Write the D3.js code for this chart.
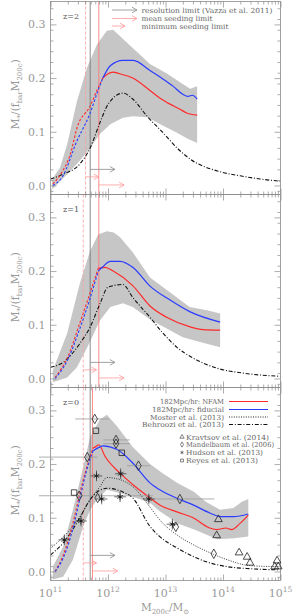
<!DOCTYPE html>
<html>
<head>
<meta charset="utf-8">
<script src="https://cdn.jsdelivr.net/npm/d3@7"></script>
<style>
body { margin: 0; background: #fff; }
text { font-family: "DejaVu Serif", serif; }
</style>
</head>
<body>
<div id="chart"></div>
<script>
// values are [log10(M200c/Msun), M*/(fbar M200c)]

var zLabels = ["z=2", "z=1", "z=0"];
var resLimit = [11.69, 11.69, 11.69];
var meanSeed = [11.84, 11.84, 11.73];
var minSeed = [11.61, 11.57, 11.57];
var dashEnd = [11.91, 11.83, 11.74];

var yTicks = [0, 0.1, 0.2, 0.3];
var xTicks = [11, 12, 13, 14, 15];

// z=2
var bandUp2 = [[11.03,0.012],[11.165,0.033],[11.29,0.077],[11.46,0.157],[11.635,0.219],[11.81,0.263],[11.98,0.288],[12.09,0.29],[12.43,0.256],[12.73,0.226],[13.03,0.208],[13.30,0.189],[13.43,0.18],[13.55,0.185]];
var bandLo2 = [[11.03,-0.007],[11.29,0.021],[11.51,0.046],[11.69,0.07],[11.86,0.096],[12.04,0.114],[12.26,0.126],[12.43,0.129],[12.68,0.127],[12.96,0.111],[13.20,0.098],[13.37,0.088],[13.55,0.079]];
var nfam2 = [[11.04,0.003],[11.2,0.025],[11.35,0.06],[11.46,0.107],[11.69,0.148],[11.82,0.18],[11.91,0.2],[12.0,0.208],[12.09,0.211],[12.2,0.208],[12.43,0.2],[12.73,0.177],[12.9,0.163],[13.07,0.152],[13.25,0.142],[13.37,0.135],[13.55,0.131]];
var fid2 = [[11.04,0.0],[11.2,0.015],[11.46,0.083],[11.69,0.135],[11.82,0.175],[11.91,0.2],[12.04,0.223],[12.26,0.233],[12.44,0.233],[12.73,0.214],[12.96,0.198],[13.13,0.185],[13.30,0.17],[13.39,0.166],[13.47,0.168],[13.55,0.161]];
var behroozi2 = [[11.0,0.012],[11.22,0.021],[11.51,0.04],[11.69,0.07],[11.86,0.117],[12.0,0.151],[12.26,0.172],[12.43,0.161],[12.68,0.129],[12.96,0.098],[13.2,0.07],[13.43,0.049],[13.9,0.027],[14.3,0.018],[14.65,0.012],[15.0,0.008]];

// z=1
var bandUp1 = [[11.04,0.015],[11.29,0.084],[11.51,0.177],[11.69,0.238],[11.83,0.268],[11.98,0.274],[12.1,0.272],[12.21,0.263],[12.43,0.235],[12.73,0.188],[13.07,0.161],[13.42,0.133],[13.72,0.127],[13.95,0.121]];
var bandLo1 = [[11.04,-0.007],[11.29,0.002],[11.46,0.021],[11.64,0.058],[11.86,0.108],[12.04,0.133],[12.26,0.14],[12.43,0.133],[12.73,0.11],[13.02,0.093],[13.30,0.077],[13.6,0.068],[13.95,0.058]];
var nfam1 = [[11.08,0.002],[11.3,0.04],[11.5,0.1],[11.69,0.16],[11.83,0.205],[11.95,0.207],[12.09,0.2],[12.43,0.173],[12.73,0.135],[13.02,0.114],[13.43,0.096],[13.65,0.091],[13.95,0.09]];
var fid1 = [[11.08,0.0],[11.3,0.035],[11.5,0.09],[11.69,0.15],[11.83,0.2],[11.9,0.207],[12.04,0.218],[12.21,0.218],[12.43,0.207],[12.73,0.172],[13.08,0.146],[13.43,0.124],[13.95,0.105]];
var behroozi1 = [[11.0,0.021],[11.22,0.03],[11.51,0.065],[11.69,0.096],[11.86,0.139],[12.0,0.17],[12.26,0.175],[12.43,0.151],[12.73,0.114],[12.96,0.084],[13.2,0.058],[13.48,0.038],[13.9,0.019],[14.35,0.01],[15.0,0.004]];

// z=0
var bandUp0 = [[11.04,0.009],[11.22,0.046],[11.39,0.115],[11.57,0.195],[11.69,0.251],[11.86,0.283],[11.98,0.292],[12.16,0.27],[12.43,0.232],[12.73,0.2],[12.95,0.183],[13.2,0.165],[13.5,0.148],[13.7,0.13],[13.95,0.115],[14.18,0.118],[14.33,0.13],[14.44,0.135]];
var bandLo0 = [[11.04,-0.015],[11.22,-0.01],[11.39,0.022],[11.57,0.084],[11.69,0.115],[11.81,0.134],[11.98,0.152],[12.2,0.146],[12.43,0.139],[12.73,0.128],[12.9,0.112],[13.07,0.1],[13.2,0.09],[13.5,0.078],[13.9,0.06],[14.2,0.062],[14.44,0.065]];
var nfam0 = [[11.08,0.0],[11.22,0.03],[11.39,0.09],[11.52,0.15],[11.62,0.19],[11.74,0.23],[11.78,0.232],[11.84,0.236],[11.95,0.214],[12.2,0.184],[12.43,0.162],[12.73,0.137],[12.9,0.124],[13.2,0.111],[13.48,0.1],[13.77,0.081],[13.9,0.078],[14.05,0.081],[14.15,0.078],[14.3,0.09],[14.44,0.105]];
var fid0 = [[11.08,0.0],[11.22,0.025],[11.39,0.08],[11.52,0.14],[11.62,0.185],[11.74,0.225],[11.86,0.232],[11.91,0.234],[12.16,0.227],[12.43,0.202],[12.73,0.165],[12.9,0.152],[13.25,0.134],[13.48,0.124],[13.77,0.109],[13.95,0.102],[14.18,0.102],[14.44,0.107]];
var behroozi0 = [[11.0,0.031],[11.22,0.053],[11.51,0.1],[11.69,0.134],[11.98,0.155],[12.26,0.148],[12.43,0.137],[12.73,0.084],[12.9,0.065],[13.2,0.044],[13.48,0.028],[13.77,0.016],[14.07,0.009],[14.5,0.005],[14.95,0.003]];
var moster0 = [[11.0,0.043],[11.29,0.072],[11.51,0.102],[11.69,0.134],[11.86,0.158],[11.98,0.175],[12.21,0.171],[12.43,0.158],[12.73,0.12],[12.9,0.096],[13.2,0.068],[13.48,0.05],[13.77,0.035],[14.07,0.022],[14.46,0.011],[14.95,0.009]];

// z=0 observations: [logM, value, errLo, errHi]
var mandelbaum = [[11.77,0.284,11.43,12.02],[12.14,0.245,11.92,12.38],[12.14,0.238,11.92,12.38],[11.64,0.213,10.8,11.82],[12.53,0.197,12.33,12.73],[11.50,0.141,10.8,12.78],[11.82,0.137,null,null],[13.25,0.135,12.75,13.85],[13.18,0.083,null,null],[13.84,0.033,null,null]];
var reyes = [[11.79,0.262],[12.24,0.221],[11.41,0.147]];
var hudson = [[11.80,0.178],[12.22,0.182],[11.89,0.135],[12.21,0.139],[12.71,0.135],[11.53,0.094],[11.24,0.059],[13.12,0.088]];
var kravtsov = [[13.92,0.097],[13.89,0.067],[14.28,0.035],[14.42,0.027],[14.47,0.016],[14.94,0.02],[14.90,0.009],[14.96,0.009]];

var arrowY = [0.03, 0.016, 0.001];
var arrowLen = [0.43, 0.23, 0.44];

var panels = [
	{band: [bandUp2, bandLo2], nfam: nfam2, fid: fid2, behroozi: behroozi2},
	{band: [bandUp1, bandLo1], nfam: nfam1, fid: fid1, behroozi: behroozi1},
	{band: [bandUp0, bandLo0], nfam: nfam0, fid: fid0, behroozi: behroozi0, moster: moster0}
];

var width = 299, height = 614;
var panelTop = [1.5, 194.5, 387.5], panelH = 193;
var axisCol = "#8a8a8a";
var red = "#ff2a2a", blue = "#2a3cff";

var svg = d3.select("#chart").append("svg")
	.attr("width", width).attr("height", height);

var x = d3.scaleLog().domain([1e11, 1e15]).range([50.5, 280.5]);
function X(lm) { return x(Math.pow(10, lm)); }

var xMinor = [];
for (var e = 11; e < 15; e++)
	for (var m = 2; m <= 9; m++) xMinor.push(m * Math.pow(10, e));
var xMajor = xTicks.map(function(e) { return Math.pow(10, e); });

function arrow(g, x1, x2, yy, col) {
	g.append("line").attr("x1", x1).attr("x2", x2).attr("y1", yy).attr("y2", yy)
		.attr("stroke", col).attr("stroke-width", 0.8);
	g.append("path").attr("d", "M" + (x2 - 5) + "," + (yy - 2.8) + "L" + x2 + "," + yy + "L" + (x2 - 5) + "," + (yy + 2.8))
		.attr("fill", "none").attr("stroke", col).attr("stroke-width", 0.8);
}

panels.forEach(function(p, i) {
	var top = panelTop[i], bot = top + panelH;
	var y = d3.scaleLinear().domain([-0.0168, 0.3426]).range([bot, top]);
	var line = d3.line().x(function(d) { return X(d[0]); }).y(function(d) { return y(d[1]); })
		.curve(d3.curveMonotoneX);
	var g = svg.append("g");

	svg.append("clipPath").attr("id", "clip" + i).append("rect")
		.attr("x", 50.5).attr("y", top).attr("width", 230).attr("height", panelH);
	var pg = g.append("g").attr("clip-path", "url(#clip" + i + ")");

	// grey band
	var poly = p.band[0].concat(p.band[1].slice().reverse());
	pg.append("path")
		.attr("d", d3.line().x(function(d) { return X(d[0]); }).y(function(d) { return y(d[1]); })(poly) + "Z")
		.attr("fill", "#c6c6c6").attr("stroke", "none");

	// limits
	pg.append("line").attr("x1", X(minSeed[i])).attr("x2", X(minSeed[i]))
		.attr("y1", top).attr("y2", bot).attr("stroke", "#ff9a9a").attr("stroke-width", 0.8)
		.attr("stroke-dasharray", "3,2");
	pg.append("line").attr("x1", X(resLimit[i])).attr("x2", X(resLimit[i]))
		.attr("y1", top).attr("y2", bot).attr("stroke", "#6e6e6e").attr("stroke-width", 0.8);
	pg.append("line").attr("x1", X(meanSeed[i])).attr("x2", X(meanSeed[i]))
		.attr("y1", top).attr("y2", bot).attr("stroke", "#ff7070").attr("stroke-width", 0.8);

	arrow(pg, X(resLimit[i]), X(resLimit[i] + arrowLen[0]), y(arrowY[0]), "#8a8a8a");
	arrow(pg, X(minSeed[i]), X(minSeed[i] + arrowLen[1]), y(arrowY[1]), "#ff9a9a");
	arrow(pg, X(meanSeed[i]), X(meanSeed[i] + arrowLen[2]), y(arrowY[2]), "#ff9a9a");

	// model lines
	if (p.moster)
		pg.append("path").attr("d", line(p.moster)).attr("fill", "none")
			.attr("stroke", "#222").attr("stroke-width", 0.9).attr("stroke-dasharray", "1,1.4");
	pg.append("path").attr("d", line(p.behroozi)).attr("fill", "none")
		.attr("stroke", "#111").attr("stroke-width", 1.1).attr("stroke-dasharray", "4,1.8,1,1.8");

	[[p.nfam, red], [p.fid, blue]].forEach(function(s) {
		var dashed = s[0].filter(function(d) { return d[0] <= dashEnd[i]; });
		var solid = s[0].filter(function(d) { return d[0] >= dashEnd[i]; });
		pg.append("path").attr("d", line(dashed)).attr("fill", "none")
			.attr("stroke", s[1]).attr("stroke-width", 1.1).attr("stroke-dasharray", "2.5,1.8");
		pg.append("path").attr("d", line(solid)).attr("fill", "none")
			.attr("stroke", s[1]).attr("stroke-width", 1.2);
	});

	// axes, ticks pointing inward
	var yMinor = d3.range(-0.01, 0.341, 0.02).map(function(v) { return +v.toFixed(2); });
	g.append("g").attr("transform", "translate(50.5,0)")
		.call(d3.axisLeft(y).tickValues(yTicks).tickSize(-6).tickPadding(5).tickFormat(d3.format(".1f")));
	g.append("g").attr("transform", "translate(50.5,0)")
		.call(d3.axisLeft(y).tickValues(yMinor).tickSize(-3).tickFormat(""));
	g.append("g").attr("transform", "translate(280.5,0)")
		.call(d3.axisRight(y).tickValues(yTicks).tickSize(-6).tickFormat(""));
	g.append("g").attr("transform", "translate(280.5,0)")
		.call(d3.axisRight(y).tickValues(yMinor).tickSize(-3).tickFormat(""));
	g.append("g").attr("transform", "translate(0," + bot + ")")
		.call(d3.axisBottom(x).tickValues(xMajor).tickSize(-6).tickFormat(""));
	g.append("g").attr("transform", "translate(0," + bot + ")")
		.call(d3.axisBottom(x).tickValues(xMinor).tickSize(-3).tickFormat(""));
	g.append("g").attr("transform", "translate(0," + top + ")")
		.call(d3.axisTop(x).tickValues(xMajor).tickSize(-6).tickFormat(""));
	g.append("g").attr("transform", "translate(0," + top + ")")
		.call(d3.axisTop(x).tickValues(xMinor).tickSize(-3).tickFormat(""));
	g.selectAll(".domain").remove();
	g.selectAll(".tick line").attr("stroke", axisCol).attr("stroke-width", 0.7);
	g.selectAll(".tick text").attr("fill", "#999").style("font-size", "11px")
		.style("font-family", "DejaVu Serif");

	g.append("rect").attr("x", 50.5).attr("y", top).attr("width", 230).attr("height", panelH)
		.attr("fill", "none").attr("stroke", axisCol).attr("stroke-width", 0.8);

	g.append("text").attr("x", 63).attr("y", top + 17).attr("fill", "#555")
		.style("font-size", "8px").text(zLabels[i]);

	// y label
	var yl = g.append("text").attr("transform", "translate(19," + y(0.17) + ") rotate(-90)")
		.attr("text-anchor", "middle").attr("fill", "#999").style("font-size", "10.5px");
	yl.append("tspan").text("M");
	yl.append("tspan").attr("dy", 2.5).style("font-size", "7px").text("*");
	yl.append("tspan").attr("dy", -2.5).text("/(f");
	yl.append("tspan").attr("dy", 2.5).style("font-size", "7px").text("bar");
	yl.append("tspan").attr("dy", -2.5).text("M");
	yl.append("tspan").attr("dy", 2.5).style("font-size", "7px").text("200c");
	yl.append("tspan").attr("dy", -2.5).text(")");

	if (i === 2) drawObs(g, y);
});

function sym(type, size) {
	return d3.symbol().type(type).size(size)();
}

function drawObs(g, y) {
	var og = g.append("g");
	// error bars
	mandelbaum.forEach(function(d) {
		if (d[2] != null)
			og.append("line").attr("x1", X(d[2])).attr("x2", X(d[3])).attr("y1", y(d[1])).attr("y2", y(d[1]))
				.attr("stroke", "#9a9a9a").attr("stroke-width", 0.8);
	});
	hudson.forEach(function(d) {
		og.append("line").attr("x1", X(d[0] - 0.1)).attr("x2", X(d[0] + 0.1)).attr("y1", y(d[1])).attr("y2", y(d[1]))
			.attr("stroke", "#333").attr("stroke-width", 0.7);
		og.append("line").attr("x1", X(d[0])).attr("x2", X(d[0])).attr("y1", y(d[1] - 0.01)).attr("y2", y(d[1] + 0.01))
			.attr("stroke", "#333").attr("stroke-width", 0.7);
	});
	var sets = [
		[mandelbaum, d3.symbolDiamond, 26],
		[reyes, d3.symbolSquare, 30],
		[kravtsov, d3.symbolTriangle, 26],
		[hudson, d3.symbolAsterisk, 30]
	];
	sets.forEach(function(s) {
		og.selectAll(null).data(s[0]).enter().append("path")
			.attr("transform", function(d) { return "translate(" + X(d[0]) + "," + y(d[1]) + ")"; })
			.attr("d", sym(s[1], s[2]))
			.attr("fill", "none")
			.attr("stroke", "#222").attr("stroke-width", 0.8);
	});
	og.selectAll(null).data(hudson).enter().append("circle")
		.attr("cx", function(d) { return X(d[0]); }).attr("cy", function(d) { return y(d[1]); })
		.attr("r", 1.2).attr("fill", "#222");

	// x labels
	xTicks.forEach(function(e) {
		var t = g.append("text").attr("x", X(e)).attr("y", 597).attr("text-anchor", "middle")
			.attr("fill", "#999").style("font-size", "11px");
		t.append("tspan").text("10");
		t.append("tspan").attr("dy", -5).style("font-size", "7.5px").text(e);
	});
	var xl = g.append("text").attr("x", 165).attr("y", 611).attr("text-anchor", "middle")
		.attr("fill", "#999").style("font-size", "10.5px");
	xl.append("tspan").text("M");
	xl.append("tspan").attr("dy", 2.5).style("font-size", "7px").text("200c");
	xl.append("tspan").attr("dy", -2.5).text("/M");
	xl.append("tspan").attr("dy", 2.5).style("font-size", "7px").text("\u2299");
}

// legend in top panel
var lg = svg.append("g");
var limLegend = [["resolution limit (Vazza et al. 2011)", "#8a8a8a", 25, 131, 10],
	["mean seeding limit", "#ff9a9a", 25, 71, 18.5],
	["minimum seeding limit", "#ff9a9a", 13, 87, 26]];
limLegend.forEach(function(l) {
	arrow(lg, 112, 112 + l[2], l[4], l[1]);
	lg.append("text").attr("x", 141.5).attr("y", l[4] + 2.5).attr("fill", "#666")
		.style("font-size", "7px").attr("textLength", l[3]).attr("lengthAdjust", "spacingAndGlyphs")
		.text(l[0]);
});

// legend in bottom panel
var lineLegend = [["182Mpc/hr: NFAM", red, "none", 64, 401.5],
	["182Mpc/hr: fiducial", blue, "none", 72, 409.5],
	["Moster et al. (2013)", "#222", "1,1.4", 74, 417],
	["Behroozi et al. (2013)", "#111", "4,1.8,1,1.8", 82, 424.5]];
lineLegend.forEach(function(l) {
	lg.append("line").attr("x1", 229).attr("x2", 268).attr("y1", l[4]).attr("y2", l[4])
		.attr("stroke", l[1]).attr("stroke-width", 1.2).attr("stroke-dasharray", l[2]);
	lg.append("text").attr("x", 224).attr("y", l[4] + 2.5).attr("text-anchor", "end").attr("fill", "#666")
		.style("font-size", "7px").attr("textLength", l[3]).attr("lengthAdjust", "spacingAndGlyphs")
		.text(l[0]);
});
var obsLegend = [["Kravtsov et al. (2014)", d3.symbolTriangle, 83, 437],
	["Mandelbaum et al. (2006)", d3.symbolDiamond, 88, 444.5],
	["Hudson et al. (2013)", d3.symbolAsterisk, 77, 452.5],
	["Reyes et al. (2013)", d3.symbolSquare, 72, 460.5]];
obsLegend.forEach(function(l) {
	lg.append("path").attr("transform", "translate(182," + l[3] + ")").attr("d", sym(l[1], 8))
		.attr("fill", "none").attr("stroke", "#333").attr("stroke-width", 0.6);
	lg.append("text").attr("x", 186).attr("y", l[3] + 2.5).attr("fill", "#666")
		.style("font-size", "7px").attr("textLength", l[2]).attr("lengthAdjust", "spacingAndGlyphs")
		.text(l[0]);
});
</script>
</body>
</html>
